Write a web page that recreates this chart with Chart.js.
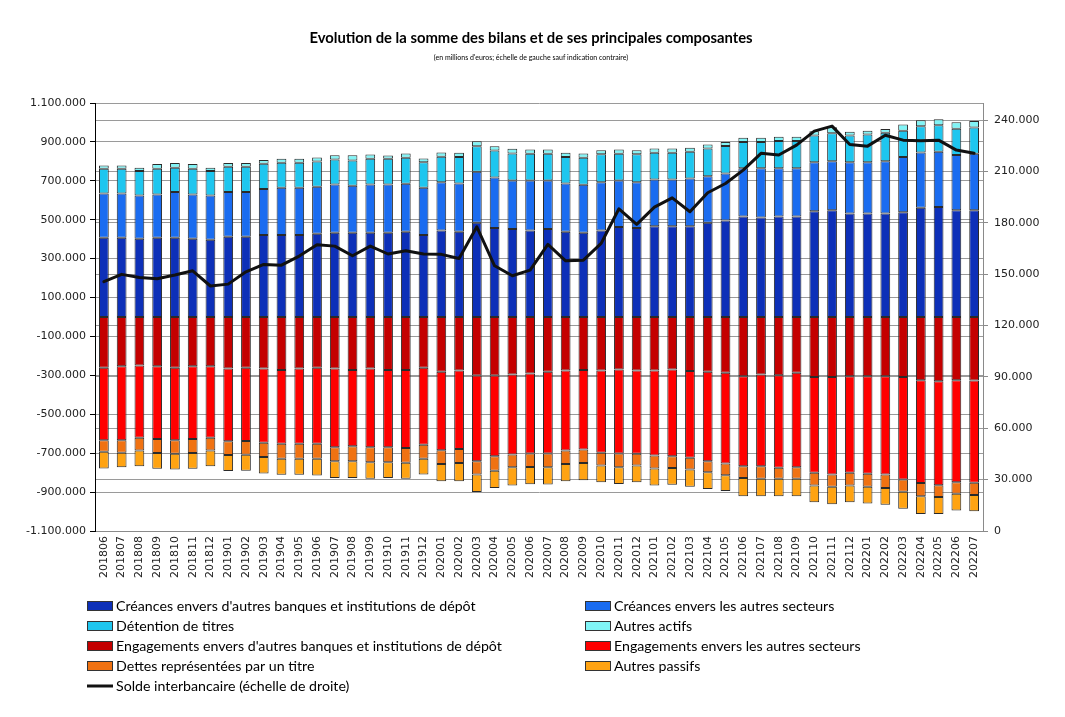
<!DOCTYPE html>
<html>
<head>
<meta charset="utf-8">
<script src="https://cdn.jsdelivr.net/npm/chart.js@4.4.1/dist/chart.umd.min.js"></script>
<style>
html,body{margin:0;padding:0;background:#fff;}
canvas{display:block;}
</style>
</head>
<body>
<canvas id="c" width="1065" height="717"></canvas>
<script>
const titleText = "Evolution de la somme des bilans et de ses principales composantes";
const subtitleText = "(en millions d'euros; échelle de gauche sauf indication contraire)";

const mois = ['201806','201807','201808','201809','201810','201811','201812',
  '201901','201902','201903','201904','201905','201906','201907','201908','201909','201910','201911','201912',
  '202001','202002','202003','202004','202005','202006','202007','202008','202009','202010','202011','202012',
  '202101','202102','202103','202104','202105','202106','202107','202108','202109','202110','202111','202112',
  '202201','202202','202203','202204','202205','202206','202207'];

const leftTicks = [-1100000,-900000,-700000,-500000,-300000,-100000,100000,300000,500000,700000,900000,1100000];
const rightTicks = [0,30000,60000,90000,120000,150000,180000,210000,240000];

const creancesBanques = [407000,407000,402000,407000,407000,402000,397000,412000,412000,422000,422000,422000,428000,433000,433000,433000,433000,
  438000,422000,445000,438000,484000,457000,452000,445000,452000,438000,433000,445000,462000,457000,467000,467000,467000,
  484000,496000,517000,512000,517000,517000,544000,549000,532000,532000,532000,539000,561000,566000,549000,549000];
const creancesSecteurs = [228000,228000,223000,223000,235000,228000,228000,230000,230000,236000,242000,242000,242000,248000,242000,248000,248000,
  247000,242000,247000,248000,262000,260000,250000,257000,250000,248000,247000,247000,240000,235000,240000,240000,245000,
  240000,242000,247000,252000,247000,247000,252000,252000,264000,264000,269000,284000,284000,284000,284000,290000];
const detentionTitres = [127000,127000,125000,132000,125000,132000,125000,130000,130000,130000,129000,129000,129000,129000,130000,132000,132000,
  134000,132000,132000,137000,132000,139000,139000,137000,137000,137000,139000,144000,137000,144000,137000,137000,137000,
  142000,141000,135000,135000,141000,141000,137000,144000,137000,142000,146000,135000,135000,135000,135000,135000];
const autresActifs = [17000,17000,17000,24000,24000,24000,17000,19000,19000,19000,21000,21000,21000,21000,26000,22000,17000,
  21000,19000,21000,21000,26000,22000,24000,22000,22000,21000,21000,21000,22000,21000,22000,22000,21000,
  21000,21000,22000,22000,22000,22000,22000,30000,19000,19000,19000,31000,31000,31000,33000,34000];

const engagementsBanques = [-261000,-253000,-249000,-253000,-261000,-253000,-253000,-265000,-261000,-265000,-273000,-265000,-261000,-265000,-273000,-265000,-273000,
  -273000,-261000,-282000,-275000,-301000,-301000,-296000,-290000,-282000,-275000,-273000,-275000,-270000,-275000,-275000,-270000,-278000,
  -282000,-287000,-304000,-296000,-299000,-287000,-309000,-309000,-304000,-304000,-304000,-309000,-325000,-330000,-325000,-326000];
const engagementsSecteurs = [-372000,-380000,-372000,-374000,-372000,-374000,-368000,-374000,-377000,-382000,-379000,-387000,-391000,-404000,-391000,-404000,-396000,
  -401000,-396000,-403000,-403000,-440000,-415000,-411000,-411000,-420000,-411000,-408000,-423000,-432000,-428000,-437000,-446000,-446000,
  -459000,-466000,-463000,-471000,-476000,-485000,-492000,-500000,-497000,-502000,-506000,-526000,-528000,-535000,-524000,-526000];
const dettesTitre = [-60000,-65000,-65000,-72000,-70000,-72000,-65000,-70000,-70000,-72000,-77000,-77000,-77000,-72000,-77000,-77000,-77000,
  -75000,-72000,-70000,-72000,-69000,-74000,-65000,-70000,-70000,-69000,-69000,-65000,-70000,-60000,-67000,-60000,-60000,
  -57000,-60000,-60000,-65000,-57000,-60000,-65000,-63000,-65000,-67000,-69000,-63000,-69000,-60000,-60000,-63000];
const autresPassifs = [-86000,-74000,-81000,-81000,-81000,-81000,-81000,-82000,-82000,-86000,-82000,-82000,-86000,-86000,-86000,-86000,-81000,
  -82000,-81000,-89000,-94000,-89000,-89000,-94000,-89000,-89000,-89000,-89000,-86000,-86000,-86000,-87000,-86000,-89000,
  -86000,-82000,-94000,-89000,-89000,-89000,-86000,-91000,-86000,-86000,-86000,-87000,-91000,-87000,-86000,-84000];

const soldeInterbancaire = [145600,149900,148100,147300,149500,152000,143100,144200,151400,155700,155300,160600,167200,166400,160800,166400,161800,
  163700,161800,161600,159200,177700,154900,149100,152400,167400,157800,158200,168000,188200,179100,189200,194600,186500,
  197600,203000,210800,220600,219600,225400,233600,236500,225800,224800,231200,228300,227900,228300,222500,220600];

const fmt = v => {
  const s = Math.abs(v).toString().replace(/\B(?=(\d{3})+(?!\d))/g, '.');
  return (v < 0 ? '-' : '') + s;
};

const barDs = (label, data, color) => ({
  type: 'bar', label, data, backgroundColor: color, borderColor: '#2a2a2a', borderWidth: 1,
  borderSkipped: false, stack: 's', yAxisID: 'y', order: 2,
  categoryPercentage: 1.0, barPercentage: 0.55
});

const datasets = [
  barDs("Créances envers d'autres banques et institutions de dépôt", creancesBanques, '#0d30b8'),
  barDs("Créances envers les autres secteurs", creancesSecteurs, '#1a6cf0'),
  barDs("Détention de titres", detentionTitres, '#1ec6ef'),
  barDs("Autres actifs", autresActifs, '#80f4f6'),
  barDs("Engagements envers d'autres banques et institutions de dépôt", engagementsBanques, '#c40000'),
  barDs("Engagements envers les autres secteurs", engagementsSecteurs, '#ff0000'),
  barDs("Dettes représentées par un titre", dettesTitre, '#f07212'),
  barDs("Autres passifs", autresPassifs, '#ffa312'),
  { type: 'line', label: "Solde interbancaire (échelle de droite)", data: soldeInterbancaire,
    borderColor: '#111', backgroundColor: '#111', borderWidth: 3, pointRadius: 0, tension: 0,
    yAxisID: 'y2', order: 0, borderJoinStyle: 'round', borderCapStyle: 'round' }
];

const decor = {
  id: 'decor',
  beforeDraw(chart) {
    const c = chart.ctx; c.save(); c.fillStyle = '#fff'; c.fillRect(0, 0, chart.width, chart.height); c.restore();
  },
  afterDraw(chart) {
    const c = chart.ctx;
    c.save();
    c.fillStyle = '#000'; c.textAlign = 'center'; c.textBaseline = 'middle';
    c.font = 'bold 14.8px Lato'; c.fillText(titleText, 531, 38);
    c.font = '7px Lato'; c.fillText(subtitleText, 531, 58);
    const ds = chart.data.datasets;
    ds.forEach((d, i) => {
      const col = i % 2, row = Math.floor(i / 2);
      const x = col ? 585 : 87, y = 606 + row * 20;
      if (d.type === 'line') {
        c.strokeStyle = d.borderColor; c.lineWidth = 3; c.beginPath(); c.moveTo(x, y); c.lineTo(x + 26, y); c.stroke();
      } else {
        c.fillStyle = d.backgroundColor; c.fillRect(x, y - 5, 26, 10);
        c.strokeStyle = '#333'; c.lineWidth = 1; c.strokeRect(x + 0.5, y - 4.5, 25, 9);
      }
      c.fillStyle = '#000'; c.textAlign = 'left'; c.font = '14.2px Lato';
      c.fillText(d.label, x + 29, y);
    });
    c.restore();
  }
};

new Chart(document.getElementById('c'), {
  data: { labels: mois, datasets },
  plugins: [decor],
  options: {
    responsive: false, animation: false,
    datasets: { bar: { categoryPercentage: 1.0, barPercentage: 0.55 } },
    layout: { padding: { top: 103, left: 0, right: 0, bottom: 0 } },
    plugins: { legend: { display: false }, title: { display: false }, tooltip: { enabled: false } },
    scales: {
      x: {
        stacked: true,
        grid: { display: true, drawOnChartArea: false, drawTicks: false },
        border: { display: true, color: '#8a8a8a' },
        ticks: { autoSkip: false, minRotation: 90, maxRotation: 90, padding: 5, color: '#222',
          font: { family: 'DejaVu Sans', size: 11 } },
        afterFit(s) { s.height = 717 - 531; }
      },
      y: {
        position: 'left', stacked: true, min: -1100000, max: 1100000,
        afterBuildTicks(s) { s.ticks = leftTicks.map(v => ({ value: v })); },
        afterFit(s) { s.width = 95; },
        grid: { color: '#9a9a9a', tickColor: '#000', tickLength: 5, lineWidth: 1 },
        border: { color: '#000' },
        ticks: { callback: v => fmt(v), padding: 4, color: '#222', font: { family: 'DejaVu Sans', size: 11 } }
      },
      y2: {
        position: 'right', min: 0, max: 250000,
        afterBuildTicks(s) { s.ticks = rightTicks.map(v => ({ value: v })); },
        afterFit(s) { s.width = 1065 - 983; },
        grid: { color: '#9a9a9a', tickColor: '#8a8a8a', tickLength: 5, lineWidth: 1 },
        border: { color: '#8a8a8a' },
        ticks: { callback: v => fmt(v), padding: 6, color: '#222', font: { family: 'DejaVu Sans', size: 11 } }
      }
    }
  }
});
</script>
</body>
</html>
